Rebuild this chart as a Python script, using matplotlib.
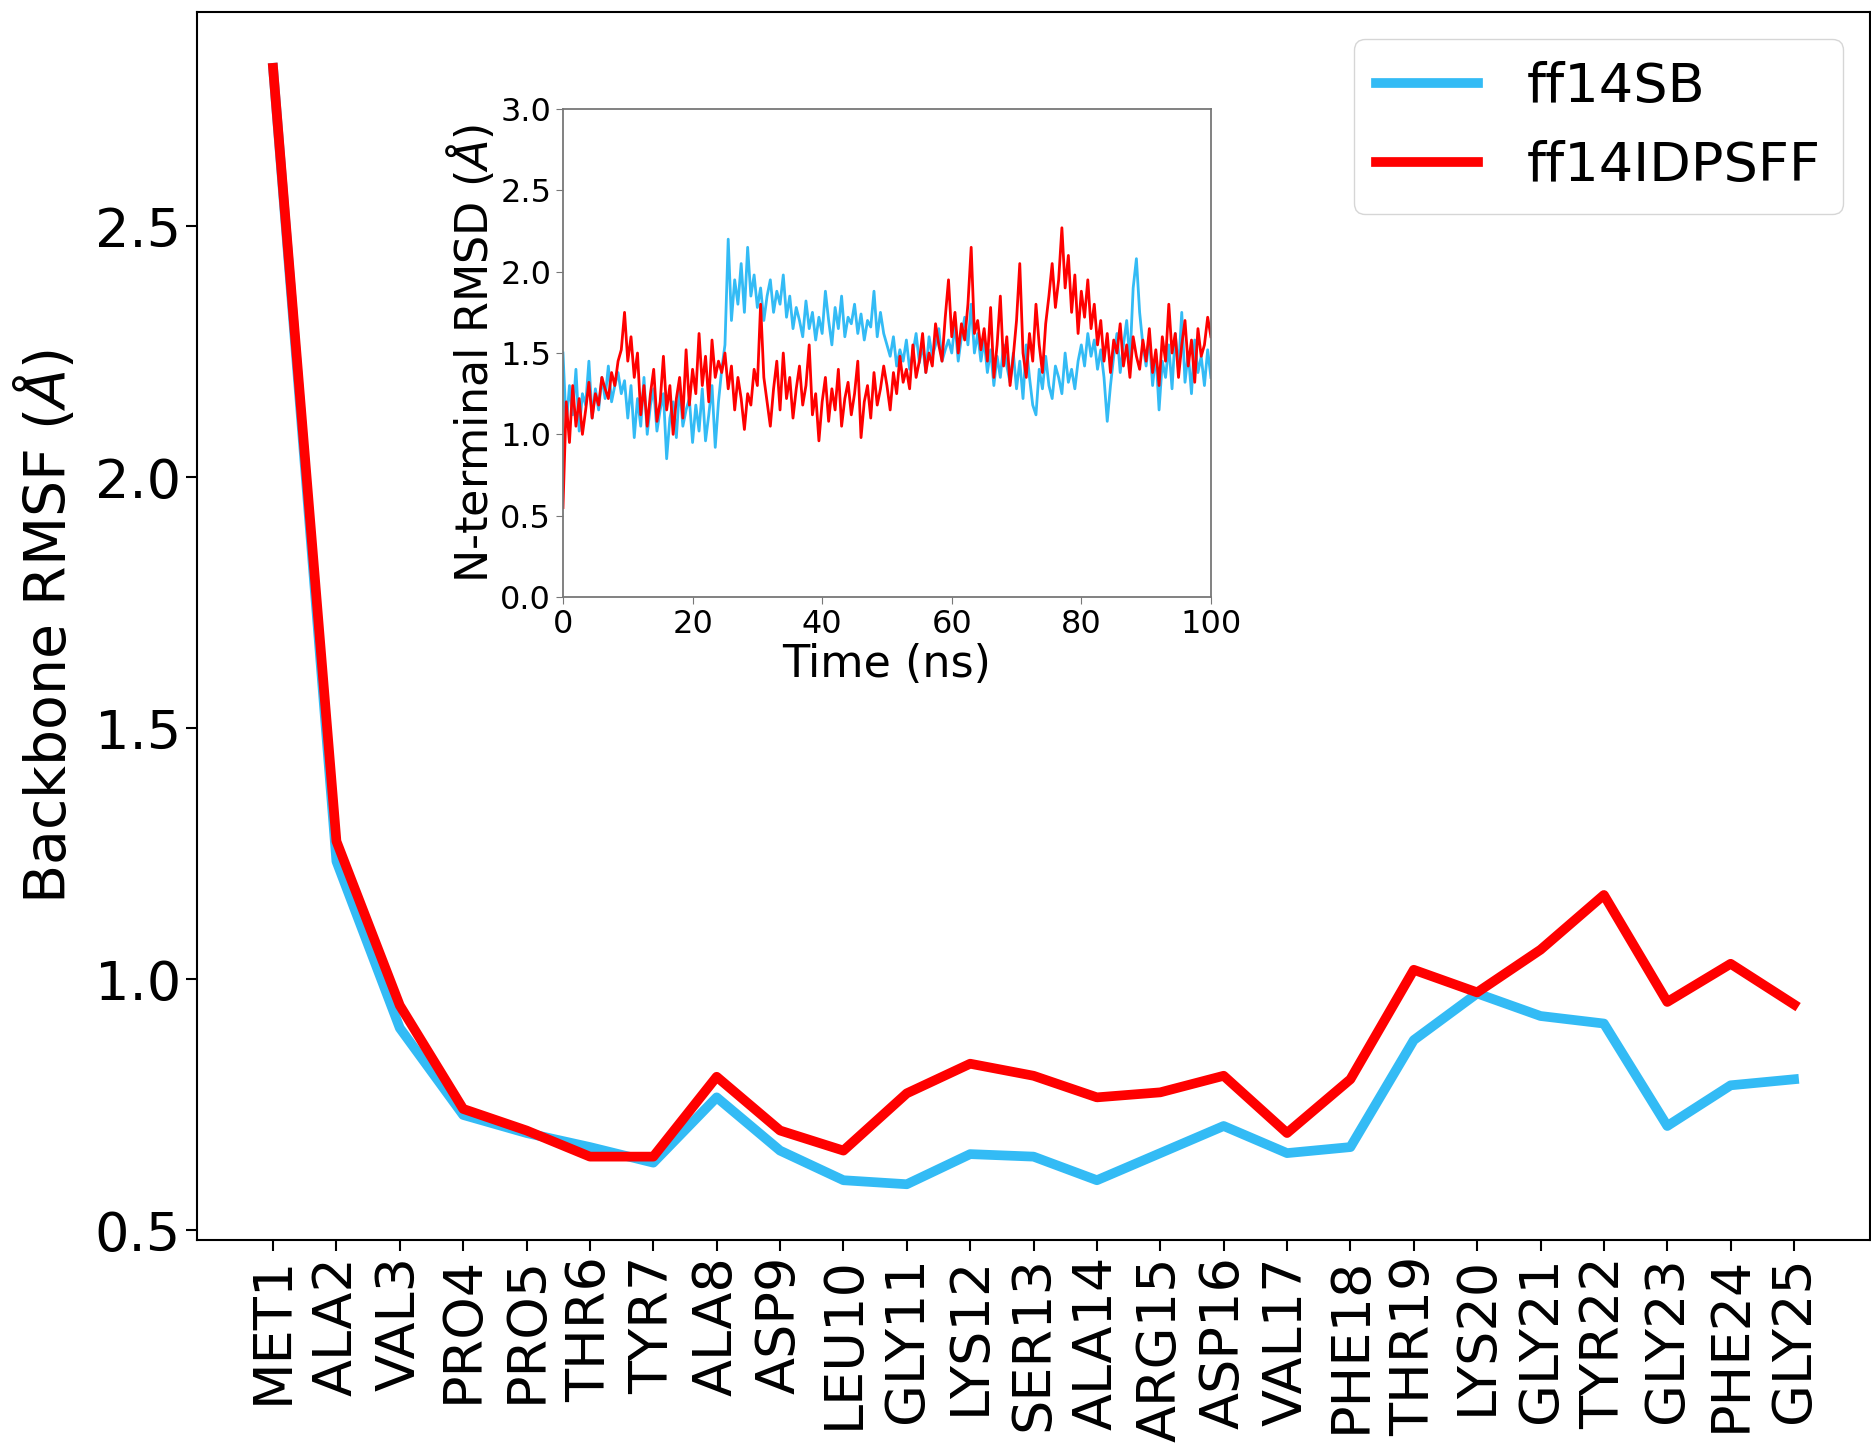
import numpy as np
import matplotlib
matplotlib.use('Agg')
import matplotlib.pyplot as plt

# per-residue backbone RMSF (A)
residues = ['MET1', 'ALA2', 'VAL3', 'PRO4', 'PRO5', 'THR6', 'TYR7', 'ALA8', 'ASP9',
            'LEU10', 'GLY11', 'LYS12', 'SER13', 'ALA14', 'ARG15', 'ASP16', 'VAL17',
            'PHE18', 'THR19', 'LYS20', 'GLY21', 'TYR22', 'GLY23', 'PHE24', 'GLY25']
rmsf_ff14sb = [2.815, 1.235, 0.903, 0.730, 0.694, 0.666, 0.635, 0.765, 0.659,
               0.600, 0.592, 0.652, 0.647, 0.600, 0.654, 0.708, 0.654, 0.666,
               0.879, 0.972, 0.927, 0.912, 0.708, 0.789, 0.801]
rmsf_idpsff = [2.815, 1.275, 0.948, 0.742, 0.699, 0.647, 0.647, 0.806, 0.699,
               0.659, 0.773, 0.832, 0.808, 0.765, 0.775, 0.808, 0.694, 0.801,
               1.019, 0.974, 1.059, 1.168, 0.955, 1.031, 0.950]

# N-terminal RMSD time series, one value every 0.5 ns
time_ns = np.arange(0, 100.5, 0.5)
rmsd_ff14sb = [
    1.50, 1.05, 1.30, 1.12, 1.40, 1.02, 1.25, 1.18, 1.45, 1.10, 1.28, 1.15, 1.35, 1.22, 1.42, 1.20, 1.30, 1.38, 1.25, 1.33,
    1.10, 1.30, 0.98, 1.22, 1.05, 1.35, 1.00, 1.18, 1.28, 1.02, 1.15, 1.25, 0.85, 1.10, 1.20, 0.98, 1.30, 1.05, 1.15, 1.22,
    0.95, 1.18, 1.02, 1.28, 0.96, 1.12, 1.30, 0.92, 1.20, 1.40, 1.55, 2.20, 1.70, 1.95, 1.80, 2.05, 1.75, 2.15, 1.85, 1.98,
    1.78, 1.90, 1.70, 1.85, 1.95, 1.75, 1.88, 1.80, 1.98, 1.72, 1.85, 1.65, 1.78, 1.70, 1.60, 1.82, 1.65, 1.75, 1.58, 1.72,
    1.62, 1.88, 1.70, 1.55, 1.78, 1.65, 1.85, 1.60, 1.72, 1.68, 1.80, 1.62, 1.74, 1.58, 1.70, 1.66, 1.88, 1.60, 1.75, 1.62,
    1.55, 1.48, 1.60, 1.42, 1.52, 1.45, 1.58, 1.40, 1.50, 1.62, 1.44, 1.55, 1.38, 1.60, 1.48, 1.55, 1.65, 1.45, 1.52, 1.58,
    1.50, 1.68, 1.45, 1.60, 1.72, 1.55, 1.80, 1.50, 1.62, 1.45, 1.58, 1.38, 1.52, 1.30, 1.48, 1.35, 1.55, 1.42, 1.32, 1.50,
    1.28, 1.45, 1.22, 1.55, 1.35, 1.18, 1.12, 1.40, 1.28, 1.48, 1.30, 1.22, 1.42, 1.35, 1.25, 1.50, 1.32, 1.40, 1.28, 1.45,
    1.55, 1.42, 1.62, 1.48, 1.58, 1.40, 1.52, 1.35, 1.08, 1.30, 1.48, 1.62, 1.38, 1.55, 1.70, 1.45, 1.90, 2.08, 1.75, 1.55,
    1.42, 1.60, 1.30, 1.50, 1.15, 1.45, 1.35, 1.55, 1.28, 1.62, 1.40, 1.75, 1.32, 1.50, 1.25, 1.58, 1.38, 1.48, 1.30, 1.52,
    1.35]
rmsd_idpsff = [
    0.55, 1.20, 0.95, 1.30, 1.05, 1.22, 1.00, 1.15, 1.32, 1.10, 1.25, 1.18, 1.35, 1.28, 1.22, 1.38, 1.30, 1.45, 1.52, 1.75,
    1.45, 1.60, 1.35, 1.50, 1.12, 1.30, 1.05, 1.25, 1.40, 1.08, 1.20, 1.48, 1.15, 1.30, 1.00, 1.22, 1.35, 1.10, 1.52, 1.18,
    1.40, 1.25, 1.62, 1.30, 1.48, 1.20, 1.58, 1.35, 1.45, 1.38, 1.50, 1.28, 1.42, 1.15, 1.35, 1.22, 1.03, 1.25, 1.18, 1.40,
    1.30, 1.80, 1.35, 1.20, 1.05, 1.28, 1.45, 1.15, 1.50, 1.22, 1.35, 1.10, 1.28, 1.42, 1.18, 1.30, 1.55, 1.12, 1.25, 0.96,
    1.20, 1.35, 1.08, 1.28, 1.15, 1.40, 1.05, 1.22, 1.32, 1.12, 1.25, 1.45, 0.98, 1.20, 1.30, 1.10, 1.38, 1.18, 1.28, 1.42,
    1.30, 1.15, 1.38, 1.25, 1.48, 1.32, 1.40, 1.28, 1.55, 1.35, 1.45, 1.62, 1.38, 1.50, 1.42, 1.68, 1.55, 1.45, 1.72, 1.95,
    1.60, 1.75, 1.50, 1.68, 1.58, 1.80, 2.15, 1.62, 1.70, 1.52, 1.65, 1.45, 1.78, 1.35, 1.55, 1.85, 1.42, 1.60, 1.30, 1.48,
    1.70, 2.05, 1.50, 1.35, 1.62, 1.45, 1.80, 1.55, 1.38, 1.68, 1.85, 2.05, 1.78, 1.95, 2.27, 1.90, 2.10, 1.75, 1.98, 1.62,
    1.88, 1.72, 1.95, 1.65, 1.80, 1.55, 1.70, 1.45, 1.62, 1.38, 1.58, 1.50, 1.68, 1.42, 1.55, 1.35, 1.60, 1.48, 1.40, 1.58,
    1.45, 1.65, 1.38, 1.52, 1.30, 1.60, 1.45, 1.80, 1.50, 1.62, 1.35, 1.55, 1.70, 1.42, 1.58, 1.32, 1.65, 1.48, 1.55, 1.72,
    1.60]

blue = '#33bbf5'
red = '#ff0000'

fig = plt.figure(figsize=(18.71, 14.48), dpi=100)
ax = fig.add_axes([0.1053, 0.1436, 0.8942, 0.8481])

x = np.arange(len(residues))
ax.plot(x, rmsf_ff14sb, color=blue, lw=7, label='ff14SB')
ax.plot(x, rmsf_idpsff, color=red, lw=7, label='ff14IDPSFF')
ax.set_xticks(x)
ax.set_xticklabels(residues, rotation=90, fontsize=39)
ax.set_yticks([0.5, 1.0, 1.5, 2.0, 2.5])
ax.tick_params(axis='y', labelsize=39)
ax.tick_params(length=8, width=1.5)
for s in ax.spines.values():
    s.set_linewidth(1.5)
ax.set_ylabel(r'Backbone RMSF ($\AA$)', fontsize=41, labelpad=12)
ax.legend(loc='upper right', fontsize=39, handlelength=1.9, handletextpad=0.9)

# inset: N-terminal RMSD vs time
ins = fig.add_axes([0.3009, 0.5877, 0.3463, 0.3370])
ins.plot(time_ns, rmsd_ff14sb, color=blue, lw=2)
ins.plot(time_ns, rmsd_idpsff, color=red, lw=2)
ins.set_xlim(0, 100)
ins.set_ylim(0, 3.0)
ins.set_xticks([0, 20, 40, 60, 80, 100])
ins.set_yticks([0.0, 0.5, 1.0, 1.5, 2.0, 2.5, 3.0])
ins.tick_params(labelsize=23, length=5, color='#777777')
for s in ins.spines.values():
    s.set_edgecolor('#777777')
    s.set_linewidth(1.3)
ins.set_xlabel('Time (ns)', fontsize=32, labelpad=2)
ins.set_ylabel(r'N-terminal RMSD ($\AA$)', fontsize=32, labelpad=2)

fig.savefig('out.png', dpi=100)
